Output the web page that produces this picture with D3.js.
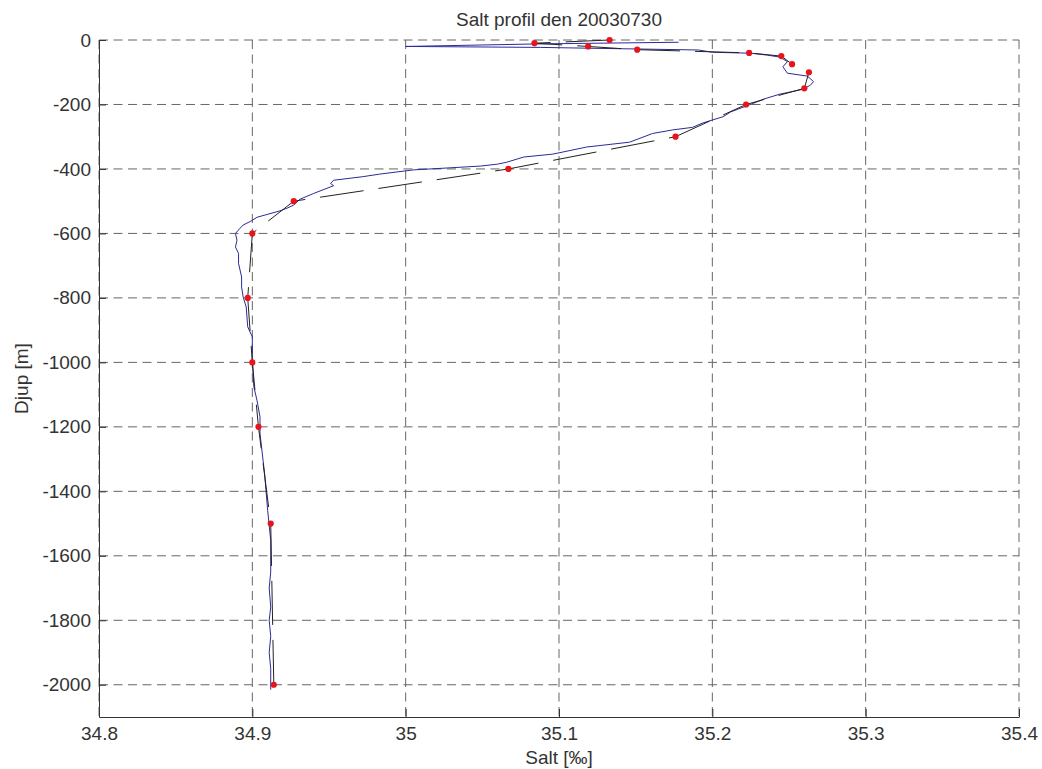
<!DOCTYPE html>
<html>
<head>
<meta charset="utf-8">
<script src="https://cdn.jsdelivr.net/npm/d3@7"></script>
<style>
  body { margin: 0; background: #fff; }
  svg { display: block; }
</style>
</head>
<body>
<svg id="chart" width="1042" height="769"></svg>
<script>
// bottle samples: red dots joined by the dashed black line
const bottleDepth = [0, -10, -20, -30, -40, -50, -75, -100, -150, -200, -300, -400, -500, -600, -800, -1000, -1200, -1500, -2000]
const bottleSalt = [35.133, 35.084, 35.119, 35.151, 35.224, 35.245, 35.252, 35.263, 35.260, 35.222, 35.176, 35.067, 34.927, 34.900, 34.897, 34.900, 34.904, 34.912, 34.914]

// CTD profile: the thin blue line
const ctdDepth = [-7, -12, -20, -23, -31, -38, -41, -47, -53, -67, -83, -103, -112, -129, -140, -153, -168, -184, -196, -205,
  -223, -238, -257, -271, -279, -290, -317, -332, -354, -363, -379, -385, -391, -397, -403, -416, -424, -435, -445, -452,
  -476, -494, -512, -521, -530, -550, -562, -574, -584, -600, -621, -642, -662, -693, -735, -766, -797, -828, -890, -921,
  -993, -1076, -1117, -1169, -1221, -1304, -1345, -1459, -1552, -1650, -1700, -1759, -1800, -1850, -1900, -1950, -2015]
const ctdSalt = [35.178, 35.088, 35.000, 35.088, 35.191, 35.200, 35.225, 35.236, 35.244, 35.249, 35.246, 35.249, 35.262, 35.266, 35.264, 35.259, 35.244, 35.233, 35.227, 35.222,
  35.212, 35.207, 35.194, 35.187, 35.174, 35.161, 35.146, 35.118, 35.096, 35.077, 35.066, 35.060, 35.049, 35.027, 35.005, 34.983, 34.972, 34.953, 34.951, 34.953,
  34.940, 34.931, 34.927, 34.923, 34.918, 34.903, 34.899, 34.894, 34.892, 34.889, 34.890, 34.889, 34.891, 34.891, 34.893, 34.893, 34.894, 34.896, 34.897, 34.900,
  34.900, 34.901, 34.903, 34.905, 34.905, 34.907, 34.908, 34.910, 34.912, 34.912, 34.911, 34.912, 34.911, 34.912, 34.911, 34.912, 34.912]

const xTicks = [34.8, 34.9, 35, 35.1, 35.2, 35.3, 35.4]
const yTicks = [0, -200, -400, -600, -800, -1000, -1200, -1400, -1600, -1800, -2000]

/****************************************************************
    Layout and style settings
/****************************************************************/
const settings = {
  left: 99, //left edge of the axes box
  right: 1019, //right edge of the axes box
  top: 40,
  bottom: 717,
  fontFamily: 'Liberation Sans, Arial, sans-serif',
  fontSize: 19,
  textColor: '#333',
  gridColor: '#666',
  gridDash: '9,5.5',
  axisColor: '#333',
  ctdColor: '#2b2b9a',
  bottleLineColor: '#222',
  bottleDash: '44,15',
  dotColor: '#e8141b',
  dotRadius: 3.1
}

const svg = d3.select('#chart')

const x = d3.scaleLinear().domain([34.8, 35.4]).range([settings.left, settings.right])
const y = d3.scaleLinear().domain([-2100, 0]).range([settings.bottom, settings.top])

// grid (dashed), drawn first
const grid = svg.append('g')
grid.selectAll('.vgrid').data(xTicks).join('line')
  .attr('x1', d => x(d)).attr('x2', d => x(d))
  .attr('y1', settings.top).attr('y2', settings.bottom)
  .attr('stroke', settings.gridColor)
  .attr('stroke-dasharray', settings.gridDash)
grid.selectAll('.hgrid').data(yTicks).join('line')
  .attr('x1', settings.left).attr('x2', settings.right)
  .attr('y1', d => y(d)).attr('y2', d => y(d))
  .attr('stroke', settings.gridColor)
  .attr('stroke-dasharray', settings.gridDash)

// axes, ticks pointing inward like matlab
const xAxis = svg.append('g')
  .attr('transform', `translate(0,${settings.bottom})`)
  .call(d3.axisBottom(x).tickValues(xTicks).tickFormat(d => String(d)).tickSizeInner(-8).tickSizeOuter(0).tickPadding(9.5))
const yAxis = svg.append('g')
  .attr('transform', `translate(${settings.left},0)`)
  .call(d3.axisLeft(y).tickValues(yTicks).tickFormat(d => String(d)).tickSizeInner(-7).tickSizeOuter(0).tickPadding(8))

;[xAxis, yAxis].forEach(a => {
  a.selectAll('path, line').attr('stroke', settings.axisColor)
  a.selectAll('text')
    .attr('fill', settings.textColor)
    .style('font-family', settings.fontFamily)
    .style('font-size', settings.fontSize + 'px')
})

// CTD profile
const ctd = ctdDepth.map((d, i) => [ctdSalt[i], d])
svg.append('path')
  .datum(ctd)
  .attr('d', d3.line().x(d => x(d[0])).y(d => y(d[1])))
  .attr('fill', 'none')
  .attr('stroke', settings.ctdColor)
  .attr('stroke-width', 1)

// bottle samples: dashed line then dots
const bottles = bottleDepth.map((d, i) => [bottleSalt[i], d])
svg.append('path')
  .datum(bottles)
  .attr('d', d3.line().x(d => x(d[0])).y(d => y(d[1])))
  .attr('fill', 'none')
  .attr('stroke', settings.bottleLineColor)
  .attr('stroke-width', 1)
  .attr('stroke-dasharray', settings.bottleDash)

svg.append('g').selectAll('circle').data(bottles).join('circle')
  .attr('cx', d => x(d[0]))
  .attr('cy', d => y(d[1]))
  .attr('r', settings.dotRadius)
  .attr('fill', settings.dotColor)

// title and labels
const label = (txt, px, py, rot) => svg.append('text')
  .text(txt)
  .attr('text-anchor', 'middle')
  .attr('transform', `translate(${px},${py})` + (rot ? ` rotate(${rot})` : ''))
  .attr('fill', settings.textColor)
  .style('font-family', settings.fontFamily)
  .style('font-size', settings.fontSize + 'px')

label('Salt profil den 20030730', (settings.left + settings.right) / 2, 26)
label('Salt [‰]', (settings.left + settings.right) / 2, 764)
label('Djup [m]', 28, (settings.top + settings.bottom) / 2, -90)
</script>
</body>
</html>
